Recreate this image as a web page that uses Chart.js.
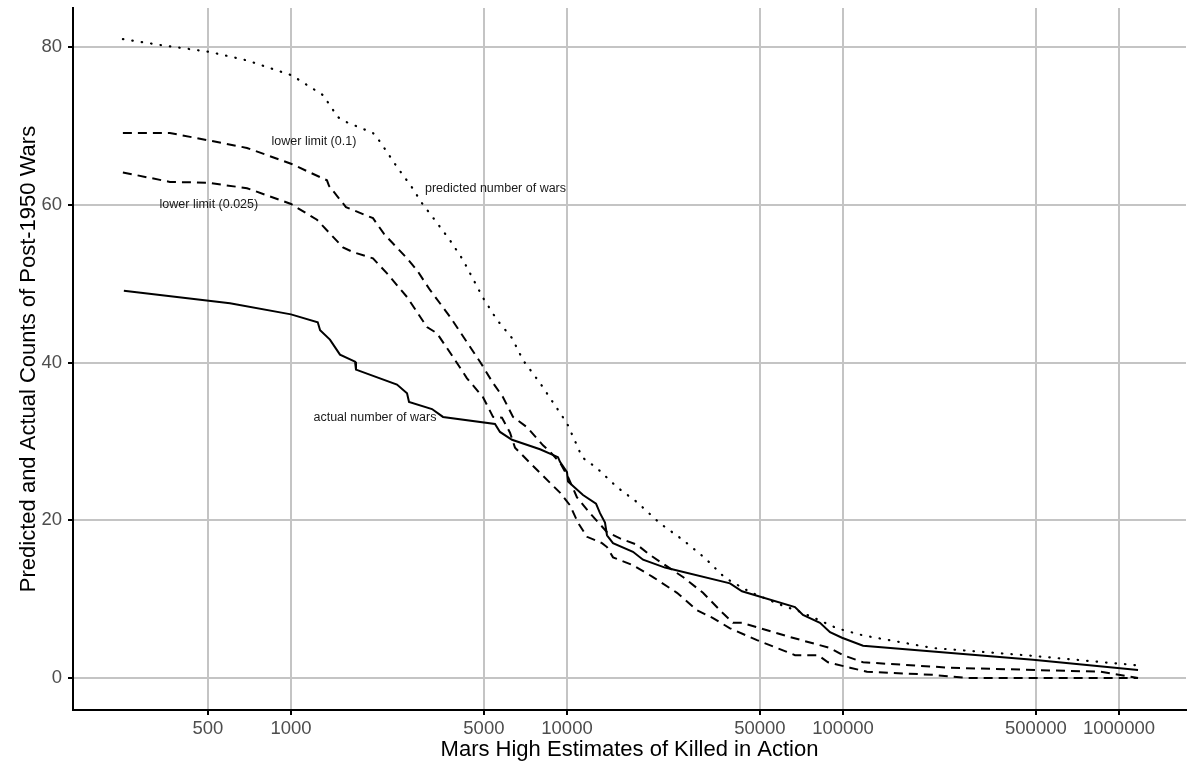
<!DOCTYPE html>
<html lang="en">
<head>
    <meta charset="UTF-8">
    <title>Predicted and Actual Counts of Post-1950 Wars</title>
    <script src="https://cdn.jsdelivr.net/npm/chart.js@4"></script>
    <style>
        body { margin: 0; padding: 0; background: #fff; }
        #wrap { width: 1191px; height: 773px; position: relative; }
    </style>
</head>
<body>
<div id="wrap"><canvas id="warsChart"></canvas></div>
<script>
    // tick labels
    const xTicks = [500, 1000, 5000, 10000, 50000, 100000, 500000, 1000000];
    const yTicks = [0, 20, 40, 60, 80];

    // actual number of wars (solid)
    const actualKia = [248, 601, 1000, 1250, 1275, 1384, 1505, 1706, 1720, 2421, 2633, 2677, 3243, 3554, 5484, 5717, 6320, 7985, 9277, 9432, 10000, 10084, 11430, 12740, 13170, 13730, 13960, 14680, 17340, 18860, 22650, 38960, 43060, 67000, 71620, 82550, 89740, 99170, 118200, 488000, 1172000];
    const actualWars = [49.1, 47.5, 46.1, 45.1, 44.1, 42.9, 41.0, 40.1, 39.1, 37.2, 36.1, 35.0, 34.1, 33.1, 32.2, 31.2, 30.2, 29.0, 28.0, 27.4, 26.1, 24.9, 23.2, 22.1, 20.9, 19.7, 18.1, 17.1, 16.0, 15.0, 14.0, 12.0, 11.0, 9.0, 8.0, 7.0, 5.8, 5.1, 4.1, 2.3, 1.0];

    // predicted number of wars (dotted)
    const predKia = [246, 344, 504, 693, 1008, 1306, 1480, 1582, 1982, 2101, 2421, 2744, 2983, 3381, 3768, 4200, 4963, 5578, 6320, 6928, 7985, 10000, 10960, 11330, 12840, 15180, 17930, 21730, 26320, 31620, 37370, 46030, 59120, 69870, 81180, 95120, 118200, 211900, 488000, 1172000];
    const predWars = [81.0, 80.2, 79.4, 78.3, 76.4, 73.9, 71.1, 70.5, 69.1, 68.0, 64.8, 62.2, 60.2, 57.7, 55.5, 53.0, 48.2, 45.4, 43.1, 40.3, 37.4, 32.3, 29.2, 28.0, 26.6, 24.2, 22.3, 19.6, 17.5, 15.2, 12.7, 10.9, 9.3, 8.4, 7.4, 6.3, 5.4, 3.8, 2.8, 1.6];

    // lower limit (0.1) (dashed)
    const low10Kia = [246, 364, 496, 693, 1000, 1350, 1373, 1582, 1982, 2173, 2633, 2861, 3189, 3768, 4839, 5395, 5864, 6373, 7163, 8185, 8678, 9432, 10084, 10870, 12110, 13960, 15560, 17930, 19980, 26320, 31100, 36750, 39950, 43060, 64270, 89740, 100000, 118200, 244200, 853400, 1172000];
    const low10Wars = [69.1, 69.1, 68.2, 67.2, 65.2, 63.1, 62.4, 59.7, 58.3, 56.3, 53.2, 51.7, 49.2, 45.8, 40.1, 37.4, 35.6, 33.1, 31.8, 29.5, 28.7, 27.3, 25.5, 22.9, 20.9, 18.5, 17.7, 16.9, 15.6, 12.8, 10.8, 8.2, 7.0, 7.0, 5.2, 3.8, 2.9, 2.0, 1.3, 0.8, 0];

    // lower limit (0.025) (dashed)
    const low025Kia = [246, 364, 496, 693, 1000, 1242, 1543, 1677, 1982, 2228, 2633, 3110, 3381, 3864, 4342, 4963, 5395, 5813, 6217, 6480, 7985, 9432, 10250, 10960, 11820, 13390, 13960, 14680, 17340, 20490, 25040, 29580, 33810, 38960, 48800, 60610, 67000, 81180, 88240, 106000, 122200, 211900, 281400, 1172000];
    const low025Wars = [64.1, 62.9, 62.8, 62.1, 60.1, 58.1, 54.6, 54.0, 53.2, 51.3, 48.3, 44.5, 43.7, 40.7, 38.0, 35.6, 33.1, 33.0, 31.1, 29.2, 26.0, 23.5, 21.9, 19.7, 17.9, 17.1, 16.6, 15.3, 14.3, 12.8, 10.8, 8.6, 7.6, 6.3, 4.8, 3.5, 2.9, 2.9, 2.0, 1.3, 0.8, 0.4, 0, 0];

    // text labels placed in data coordinates
    const noteText = ['lower limit (0.1)', 'lower limit (0.025)', 'predicted number of wars', 'actual number of wars'];
    const noteKia = [1211, 504, 5508, 2015];
    const noteWars = [68, 60, 62, 33];

    function toPoints(xs, ys) {
        return xs.map((x, i) => ({ x: x, y: ys[i] }));
    }

    const fontFamily = '"Liberation Sans", Arial, sans-serif';

    const notesPlugin = {
        id: 'notes',
        afterDatasetsDraw(chart) {
            const ctx = chart.ctx;
            const xs = chart.scales.x, ys = chart.scales.y;
            ctx.save();
            ctx.font = '12.5px ' + fontFamily;
            ctx.fillStyle = '#1a1a1a';
            ctx.textAlign = 'center';
            ctx.textBaseline = 'middle';
            noteText.forEach((t, i) => {
                ctx.fillText(t, xs.getPixelForValue(noteKia[i]), ys.getPixelForValue(noteWars[i]));
            });
            ctx.restore();
        }
    };

    const lineBase = { borderColor: '#000', backgroundColor: '#000', pointRadius: 0, tension: 0, fill: false };

    new Chart(document.getElementById('warsChart'), {
        type: 'line',
        data: {
            datasets: [
                Object.assign({ label: 'predicted', data: toPoints(predKia, predWars), borderWidth: 2.2, borderDash: [0.5, 9], borderCapStyle: 'round' }, lineBase),
                Object.assign({ label: 'lower limit (0.1)', data: toPoints(low10Kia, low10Wars), borderWidth: 2, borderDash: [9, 6] }, lineBase),
                Object.assign({ label: 'lower limit (0.025)', data: toPoints(low025Kia, low025Wars), borderWidth: 2, borderDash: [9, 6] }, lineBase),
                Object.assign({ label: 'actual', data: toPoints(actualKia, actualWars), borderWidth: 2 }, lineBase)
            ]
        },
        options: {
            responsive: true,
            maintainAspectRatio: false,
            animation: false,
            layout: { padding: { top: 8, right: 5, left: 0, bottom: 0 } },
            plugins: { legend: { display: false }, tooltip: { enabled: false } },
            scales: {
                x: {
                    type: 'logarithmic',
                    min: 162.25,
                    max: 1748900,
                    afterBuildTicks: (scale) => { scale.ticks = xTicks.map(v => ({ value: v })); },
                    afterFit: (scale) => {
                        scale.height = 63;
                        scale.paddingLeft = 0;
                        scale.paddingRight = 0;
                    },
                    ticks: {
                        autoSkip: false,
                        maxRotation: 0,
                        padding: 3,
                        color: '#4d4d4d',
                        font: { family: fontFamily, size: 18.5 },
                        callback: (v) => String(v)
                    },
                    grid: { color: '#c4c4c4', lineWidth: 2, tickColor: '#000', tickLength: 5, tickWidth: 2 },
                    border: { color: '#000', width: 2 },
                    title: {
                        display: true,
                        text: 'Mars High Estimates of Killed in Action',
                        color: '#000',
                        font: { family: fontFamily, size: 22 },
                        padding: { top: 0, bottom: 10 }
                    }
                },
                y: {
                    type: 'linear',
                    min: -4.057,
                    max: 84.945,
                    afterBuildTicks: (scale) => { scale.ticks = yTicks.map(v => ({ value: v })); },
                    afterFit: (scale) => {
                        scale.width = 73;
                        scale.paddingTop = 0;
                        scale.paddingBottom = 0;
                    },
                    ticks: {
                        padding: 6,
                        color: '#4d4d4d',
                        font: { family: fontFamily, size: 18.5 }
                    },
                    grid: { color: '#c4c4c4', lineWidth: 2, tickColor: '#000', tickLength: 5, tickWidth: 2 },
                    border: { color: '#000', width: 2 },
                    title: {
                        display: true,
                        text: 'Predicted and Actual Counts of Post-1950 Wars',
                        color: '#000',
                        font: { family: fontFamily, size: 22 },
                        padding: { top: 16, bottom: 0 }
                    }
                }
            }
        },
        plugins: [notesPlugin]
    });
</script>
</body>
</html>
